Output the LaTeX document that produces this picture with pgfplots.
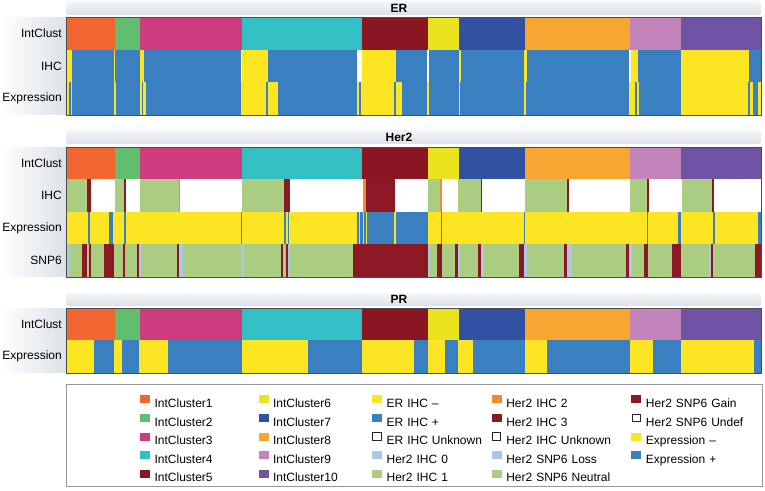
\documentclass[border=0pt]{standalone}
\usepackage{pgfplots}
\pgfplotsset{compat=1.18}
\usepackage{fontspec}
\setmainfont{Liberation Sans}
\definecolor{c1}{HTML}{F26632}
\definecolor{c2}{HTML}{60BE6E}
\definecolor{c3}{HTML}{CE3B7E}
\definecolor{c4}{HTML}{33C0C4}
\definecolor{c5}{HTML}{8A1621}
\definecolor{c6}{HTML}{E9E41E}
\definecolor{c7}{HTML}{3251A2}
\definecolor{c8}{HTML}{F8A632}
\definecolor{c9}{HTML}{C383BB}
\definecolor{c10}{HTML}{6F53A5}
\definecolor{cY}{HTML}{FDE524}
\definecolor{cB}{HTML}{3A7FBF}
\definecolor{cG}{HTML}{AACD82}
\definecolor{cL}{HTML}{A9C8E8}
\definecolor{cO}{HTML}{F28A2E}
\definecolor{cR}{HTML}{8B1822}
\definecolor{band}{HTML}{DCE2E9}
\definecolor{bartop}{HTML}{F4F6F8}
\definecolor{barbot}{HTML}{DCE1E7}
\newcommand\rowy[2]{\def\ya{#1}\def\yb{#2}}
\newcommand\seg[3]{\edef\tmp{\noexpand\addplot[fill=#3,draw=none,mark=none,forget plot] coordinates {(#1,\ya) (#2,\ya) (#2,\yb) (#1,\yb)};}\tmp}
\newcommand\clusters{\seg{66}{115}{c1}\seg{115}{140}{c2}\seg{140}{242}{c3}\seg{242}{362}{c4}\seg{362}{428}{c5}\seg{428}{459}{c6}\seg{459}{525}{c7}\seg{525}{630}{c8}\seg{630}{681}{c9}\seg{681}{761}{c10}}
\newcommand\leg[3][104pt]{\addlegendimage{legend image code/.code={\fill[#2] (0pt,2pt) rectangle (9pt,9pt);}}\addlegendentry[text width=#1]{#3}}
\newcommand\legu[2][104pt]{\addlegendimage{legend image code/.code={\draw[black!85,line width=0.9pt,fill=white] (0.5pt,1.5pt) rectangle (9pt,9pt);}}\addlegendentry[text width=#1]{#2}}
\newcommand\band[3]{\shade[left color=white,right color=band] (0,#1+0.7) rectangle (66,#2-0.7); \node[anchor=east,inner sep=0pt] at (62,{(#1+#2)/2}) {#3};}
\newcommand\tbar[3]{\shade[top color=bartop,bottom color=barbot,rounded corners=2pt] (66,#1) rectangle (761,#2); \node[inner sep=0pt,font=\fontsize{12}{14}\selectfont\bfseries] at (399,{(#1+#2)/2}) {#3};}
\begin{document}
\begin{tikzpicture}[font=\fontsize{12}{14}\selectfont]
\begin{axis}[x=1pt,y=1pt,xmin=0,xmax=765,ymin=0,ymax=490,y dir=reverse,hide axis,clip=false,
  legend columns=5, legend cell align=left,
  legend style={at={(axis cs:140,395)},anchor=north west,draw=none,fill=none,inner sep=0pt,
    font=\fontsize{12}{14}\selectfont,row sep=3.3pt,column sep=0pt,
    nodes={inner sep=0pt,align=left,text height=9pt,text depth=3pt},
    /tikz/every odd column/.append style={column sep=5pt}}]
\coordinate (BL) at (0,490);
\coordinate (TR) at (765,0);
% ---------- ER ----------
\tbar{1}{15}{ER}
\band{17}{50}{IntClust}\band{50}{82}{IHC}\band{82}{115}{Expression}
\rowy{17}{50}\clusters
\rowy{50}{82}
\seg{66}{71.7}{cY}\seg{71.7}{114}{cB}\seg{114}{115.3}{cY}\seg{115.3}{140}{cB}\seg{140}{144}{cY}\seg{144}{240.7}{cB}\seg{240.7}{242.3}{white}\seg{242.3}{268.3}{cY}\seg{268.3}{357.3}{cB}\seg{357.3}{362.3}{white}\seg{362.3}{396}{cY}\seg{396}{426.7}{cB}\seg{426.7}{429.3}{white}\seg{429.3}{458.7}{cB}\seg{458.7}{460.5}{cY}\seg{460.5}{524}{cB}\seg{524}{526.5}{cY}\seg{526.5}{629.3}{cB}\seg{629.3}{630.7}{white}\seg{630.7}{638.3}{cY}\seg{638.3}{681}{cB}\seg{681}{749}{cY}\seg{749}{761}{cB}
\rowy{82}{115}
\seg{66}{69.3}{cY}\seg{69.3}{70.7}{cB}\seg{70.7}{72}{cY}\seg{72}{114}{cB}\seg{114}{115.7}{cY}\seg{115.7}{139.5}{cB}\seg{139.5}{141.7}{cY}\seg{141.7}{143}{cB}\seg{143}{145.7}{cY}\seg{145.7}{240.7}{cB}\seg{240.7}{265.7}{cY}\seg{265.7}{267.7}{cB}\seg{267.7}{277.7}{cY}\seg{277.7}{357.3}{cB}\seg{357.3}{359}{cY}\seg{359}{360.7}{cB}\seg{360.7}{394}{cY}\seg{394}{396}{cB}\seg{396}{401.7}{cY}\seg{401.7}{426.7}{cB}\seg{426.7}{428.5}{cY}\seg{428.5}{458.7}{cB}\seg{458.7}{460.3}{cY}\seg{460.3}{524}{cB}\seg{524}{525.7}{cY}\seg{525.7}{629.3}{cB}\seg{629.3}{635.3}{cY}\seg{635.3}{637}{cB}\seg{637}{639.3}{cY}\seg{639.3}{681}{cB}\seg{681}{747.7}{cY}\seg{747.7}{750}{cB}\seg{750}{752.7}{cY}\seg{752.7}{758.3}{cB}\seg{758.3}{761}{cY}
\draw[black!70,line width=0.6pt] (66,17) rectangle (761,115);
% ---------- Her2 ----------
\tbar{130}{144}{Her2}
\band{147}{179}{IntClust}\band{179}{212}{IHC}\band{212}{244}{Expression}\band{244}{277}{SNP6}
\rowy{147}{179}\clusters
\rowy{179}{212}
\seg{66}{87.3}{cG}\seg{87.3}{91}{cR}\seg{91}{115}{white}\seg{115}{124.3}{cG}\seg{124.3}{126.3}{cR}\seg{126.3}{140}{white}\seg{140}{179}{cG}\seg{179}{180.3}{cO}\seg{180.3}{242}{white}\seg{242}{284.3}{cG}\seg{284.3}{290}{cR}\seg{290}{363.3}{white}\seg{363.3}{366}{cO}\seg{366}{395}{cR}\seg{395}{428.3}{white}\seg{428.3}{440}{cG}\seg{440}{441.7}{cO}\seg{441.7}{458}{white}\seg{458}{480.7}{cG}\seg{480.7}{482.3}{cR}\seg{482.3}{525.3}{white}\seg{525.3}{567.3}{cG}\seg{567.3}{569.3}{cR}\seg{569.3}{630}{white}\seg{630}{646.7}{cG}\seg{646.7}{649}{cR}\seg{649}{681.7}{white}\seg{681.7}{711.7}{cG}\seg{711.7}{714}{cR}\seg{714}{761}{white}
\rowy{212}{244}
\seg{66}{88.3}{cY}\seg{88.3}{90}{cB}\seg{90}{109.3}{cY}\seg{109.3}{113.3}{cB}\seg{113.3}{124.3}{cY}\seg{124.3}{125.7}{cB}\seg{125.7}{240.7}{cY}\seg{240.7}{242}{cB}\seg{242}{284.3}{cY}\seg{284.3}{285.7}{cB}\seg{285.7}{287.7}{cY}\seg{287.7}{289.3}{cB}\seg{289.3}{357.3}{cY}\seg{357.3}{428.3}{cB}\seg{359.3}{360.3}{cY}\seg{362.7}{363.7}{cY}\seg{366}{367}{cY}\seg{394.3}{395.7}{cY}\seg{428.3}{441}{cY}\seg{441}{442.3}{cB}\seg{442.3}{524}{cY}\seg{524}{525.3}{cB}\seg{525.3}{646.7}{cY}\seg{646.7}{648.3}{cB}\seg{648.3}{678.3}{cY}\seg{678.3}{680.7}{cB}\seg{680.7}{713.3}{cY}\seg{713.3}{715}{cB}\seg{715}{758.3}{cY}\seg{758.3}{761}{cB}
\rowy{244}{277}
\seg{66}{70}{cL}\seg{70}{81.7}{cG}\seg{81.7}{87.3}{cR}\seg{87.3}{89.3}{cG}\seg{89.3}{91.3}{cR}\seg{91.3}{104}{cG}\seg{104}{114}{cR}\seg{114}{122.7}{cG}\seg{122.7}{125}{cR}\seg{125}{136.7}{cG}\seg{136.7}{139}{cR}\seg{139}{140.7}{cL}\seg{140.7}{176.7}{cG}\seg{176.7}{179}{cR}\seg{179}{183.3}{cL}\seg{183.3}{240.7}{cG}\seg{240.7}{244}{cL}\seg{244}{281}{cG}\seg{281}{283.3}{cR}\seg{283.3}{285.7}{cG}\seg{285.7}{287.7}{cR}\seg{287.7}{290}{cL}\seg{290}{352.5}{cG}\seg{352.5}{428.3}{cR}\seg{428.3}{430}{cL}\seg{430}{436.7}{cG}\seg{436.7}{441.7}{cR}\seg{441.7}{455}{cG}\seg{455}{458.3}{cR}\seg{458.3}{460}{cL}\seg{460}{478.3}{cG}\seg{478.3}{481}{cR}\seg{481}{484}{cL}\seg{484}{519.3}{cG}\seg{519.3}{524}{cR}\seg{524}{526.7}{cL}\seg{526.7}{564.3}{cG}\seg{564.3}{566.7}{cR}\seg{566.7}{571.7}{cL}\seg{571.7}{625.7}{cG}\seg{625.7}{629.3}{cR}\seg{629.3}{631.7}{cL}\seg{631.7}{644}{cG}\seg{644}{647.7}{cR}\seg{647.7}{671.7}{cG}\seg{671.7}{681}{cR}\seg{681}{709}{cG}\seg{709}{710.7}{cL}\seg{710.7}{713.3}{cR}\seg{713.3}{755}{cG}\seg{755}{761}{cR}
\draw[black!70,line width=0.6pt] (66,147) rectangle (761,277);
% ---------- PR ----------
\tbar{293}{306}{PR}
\band{308}{340}{IntClust}\band{340}{373}{Expression}
\rowy{308}{340}\clusters
\rowy{340}{373}
\seg{66}{94}{cY}\seg{94}{114}{cB}\seg{114}{121.7}{cY}\seg{121.7}{139.3}{cB}\seg{139.3}{167.7}{cY}\seg{167.7}{241.7}{cB}\seg{241.7}{308.3}{cY}\seg{308.3}{361.7}{cB}\seg{361.7}{414.3}{cY}\seg{414.3}{428.3}{cB}\seg{428.3}{445}{cY}\seg{445}{458.3}{cB}\seg{458.3}{472.7}{cY}\seg{472.7}{525.3}{cB}\seg{525.3}{547.3}{cY}\seg{547.3}{630}{cB}\seg{630}{653.3}{cY}\seg{653.3}{681}{cB}\seg{681}{754}{cY}\seg{754}{761}{cB}
\draw[black!70,line width=0.6pt] (66,308) rectangle (761,373);
% ---------- legend ----------
\draw[black!40,line width=0.8pt] (66,384) rectangle (762,486);
\leg{c1}{IntCluster1}\leg[99pt]{c6}{IntCluster6}\leg[105pt]{cY}{ER IHC --}\leg[125pt]{cO}{Her2 IHC 2}\leg[110pt]{cR}{Her2 SNP6 Gain}
\leg{c2}{IntCluster2}\leg[99pt]{c7}{IntCluster7}\leg[105pt]{cB}{ER IHC +}\leg[125pt]{cR}{Her2 IHC 3}\legu[110pt]{Her2 SNP6 Undef}
\leg{c3}{IntCluster3}\leg[99pt]{c8}{IntCluster8}\legu[105pt]{ER IHC Unknown}\legu[125pt]{Her2 IHC Unknown}\leg[110pt]{cY}{Expression --}
\leg{c4}{IntCluster4}\leg[99pt]{c9}{IntCluster9}\leg[105pt]{cL}{Her2 IHC 0}\leg[125pt]{cL}{Her2 SNP6 Loss}\leg[110pt]{cB}{Expression +}
\leg{c5}{IntCluster5}\leg[99pt]{c10}{IntCluster10}\leg[105pt]{cG}{Her2 IHC 1}\leg[125pt]{cG}{Her2 SNP6 Neutral}
\end{axis}
\pgfresetboundingbox
\useasboundingbox (BL) rectangle (TR);
\end{tikzpicture}
\end{document}
